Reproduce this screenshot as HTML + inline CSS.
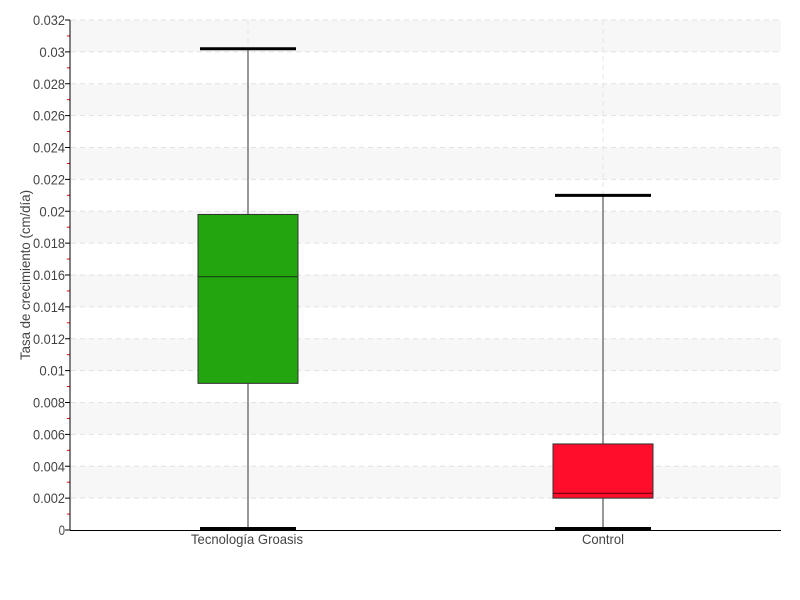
<!DOCTYPE html>
<html><head><meta charset="utf-8"><style>html,body{margin:0;padding:0;background:#fff}svg{display:block}</style></head>
<body>
<svg id="s" width="800" height="600" xmlns="http://www.w3.org/2000/svg" font-family="Liberation Sans, sans-serif"></svg>
<script>
const s=document.getElementById('s');let h='';
const Y=v=>530-v*15937.5;
for(let k=0;k<16;k++){const v=k*0.002;
 if(k%2==1)h+=`<rect x="71" y="${Y(v+0.002)}" width="710" height="31.875" fill="#f7f7f7"/>`;}
for(let k=1;k<=16;k++){h+=`<line x1="71" x2="781" y1="${Y(k*0.002)}" y2="${Y(k*0.002)}" stroke="#e2e2e2" stroke-dasharray="5,4"/>`;}
[248,603].forEach(x=>h+=`<line x1="${x}" x2="${x}" y1="20" y2="530" stroke="#e6e6e6" stroke-dasharray="5,4"/>`);
for(let k=0;k<=16;k++){const v=k*0.002,y=Y(v);
 let t=k==0?'0':(+v.toFixed(3)).toString();
 h+=`<line x1="65" x2="70" y1="${y}" y2="${y}" stroke="#000"/>`;
 h+=`<text x="65" y="${y+5}" text-anchor="end" font-size="14" fill="#444" textLength="${t.length*6.4}" lengthAdjust="spacingAndGlyphs">${t}</text>`;
 if(k<16)h+=`<line x1="67" x2="70" y1="${Y(v+0.001)}" y2="${Y(v+0.001)}" stroke="#e00"/>`;}
h+=`<line x1="70" x2="70" y1="20" y2="530" stroke="#000"/><line x1="70" x2="781" y1="530.5" y2="530.5" stroke="#000"/>`;
h+=`<text transform="translate(30,275) rotate(-90)" text-anchor="middle" font-size="14" fill="#444" textLength="170" lengthAdjust="spacingAndGlyphs">Tasa de crecimiento (cm/día)</text>`;
function box(c,wt,q3,md,q1,wb,fill,mc){
 h+=`<line x1="${c}" x2="${c}" y1="${Y(wt)}" y2="${Y(wb)}" stroke="#777" stroke-width="1.5"/>`;
 h+=`<rect x="${c-50}" y="${Y(q3)}" width="100" height="${Y(q1)-Y(q3)}" fill="${fill}" stroke="#333"/>`;
 h+=`<line x1="${c-50}" x2="${c+50}" y1="${Y(md)}" y2="${Y(md)}" stroke="${mc}" stroke-width="1.3"/>`;
 h+=`<line x1="${c-48}" x2="${c+48}" y1="${Y(wt)}" y2="${Y(wt)}" stroke="#000" stroke-width="3"/>`;
 h+=`<line x1="${c-48}" x2="${c+48}" y1="528.5" y2="528.5" stroke="#000" stroke-width="3"/>`;}
box(248,0.0302,0.0198,0.0159,0.0092,0,'#22a50f','#164d10');
box(603,0.0210,0.0054,0.0023,0.0020,0,'#ff0d2b','#7a0010');
h+=`<text x="247" y="544" text-anchor="middle" font-size="14" fill="#444" textLength="112" lengthAdjust="spacingAndGlyphs">Tecnología Groasis</text>`;
h+=`<text x="603" y="544" text-anchor="middle" font-size="14" fill="#444" textLength="42" lengthAdjust="spacingAndGlyphs">Control</text>`;
s.innerHTML=h;
</script>
</body></html>
